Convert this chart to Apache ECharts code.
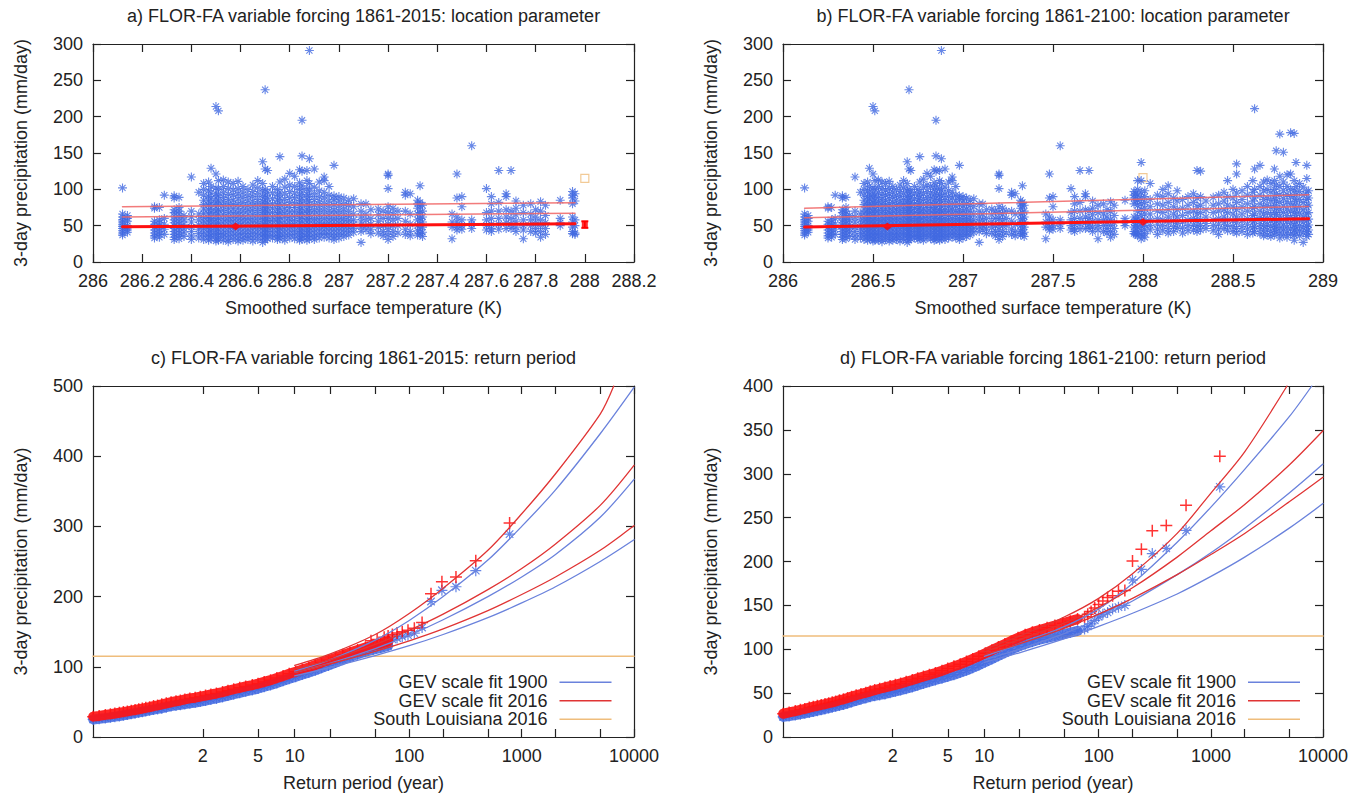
<!DOCTYPE html>
<html><head><meta charset="utf-8">
<script src="https://cdn.jsdelivr.net/npm/echarts@6/dist/echarts.min.js"></script>
<style>html,body{margin:0;padding:0;background:#fff}#chart{width:1363px;height:796px}</style>
</head><body><div id="chart"></div>
<script>
// ---------- Panel a/b: annual maxima vs smoothed temperature (columns: [temperature, [precip values]]) ----------
const histCols = [
 [286.12,[102,66,62,58,55,52,49,46,43,40,37]],
 [286.14,[64,60,56,50,47,44,41]],
 [286.25,[76,74,56,52,48,44,40,36,33]],
 [286.27,[75,58,54,50,46,42,38,34]],
 [286.29,[92,60,52,45,38]],
 [286.33,[91,88,72,68,63,58,54,50,46,42,38,34,31]],
 [286.35,[89,75,70,66,61,56,52,48,44,40,36,32]],
 [286.37,[64,58,52,46,41,35]],
 [286.40,[117,70,62,55,48,42,36,31]],
 [286.43,[96,66,58,51,45,39,33]],
 [286.45,[108,100,92,85,79,73,67,61,56,51,46,41,36,31]],
 [286.47,[110,98,90,84,78,72,66,60,55,50,45,40,35,30]],
 [286.48,[129,104,95,87,80,74,68,62,57,52,47,42,37,32]],
 [286.50,[214,121,102,94,88,82,76,70,64,58,53,48,43,38,33,29]],
 [286.51,[208,112,100,92,85,79,72,66,60,54,49,44,39,34,30]],
 [286.53,[113,104,96,89,83,77,71,65,59,54,49,44,39,35,30]],
 [286.55,[110,101,93,86,80,74,68,62,57,52,47,42,37,32,28]],
 [286.57,[108,99,92,85,79,73,67,61,56,51,46,41,36,31]],
 [286.59,[111,101,94,87,80,74,68,63,58,53,48,43,38,33,29]],
 [286.61,[104,96,89,82,76,70,64,59,54,49,44,39,34,30]],
 [286.63,[100,92,85,78,72,66,60,55,50,45,40,35,31]],
 [286.65,[106,97,90,83,77,71,65,59,54,49,44,39,34,29]],
 [286.67,[112,102,94,86,80,74,68,62,56,51,46,41,36,31]],
 [286.69,[138,108,98,90,83,77,71,65,59,53,48,43,38,33,27]],
 [286.70,[237,128,100,92,85,78,72,66,60,55,50,45,40,35,30]],
 [286.71,[126,96,88,81,75,69,63,57,52,47,42,37,32]],
 [286.73,[104,95,87,80,74,68,62,57,52,47,42,37,33]],
 [286.75,[100,92,85,78,72,66,60,55,50,45,40,35,31]],
 [286.76,[145,110,96,88,81,74,68,62,56,51,46,41,36,32]],
 [286.78,[114,103,94,86,79,73,67,61,55,50,45,40,35,30]],
 [286.80,[122,106,97,89,82,75,69,63,58,53,48,43,38,33]],
 [286.82,[118,104,95,88,81,75,69,63,57,52,47,42,37,32]],
 [286.84,[127,109,100,92,85,78,72,66,60,54,49,44,39,34,30]],
 [286.85,[195,146,125,105,96,88,81,74,68,62,56,50,45,40,35,31]],
 [286.87,[126,112,101,93,86,79,72,66,60,55,50,45,40,35,30]],
 [286.88,[291,142,108,98,90,83,76,70,64,58,52,47,42,37,32]],
 [286.90,[128,103,94,86,79,72,66,60,55,50,45,40,35,31]],
 [286.92,[110,98,90,83,76,70,64,58,53,48,43,38,33]],
 [286.94,[117,112,96,88,80,73,66,60,54,49,44,39,34]],
 [286.96,[104,92,84,77,70,64,58,53,48,43,38,33]],
 [286.98,[133,91,86,79,72,66,60,55,50,45,40,35,31]],
 [287.00,[90,84,77,70,64,58,53,48,43,38,33]],
 [287.02,[88,80,73,66,60,55,50,45,40,35]],
 [287.04,[85,78,70,63,57,52,47,42,37]],
 [287.06,[87,76,66,58,52,46,41]],
 [287.09,[80,70,62,55,48,42,27]],
 [287.11,[80,66,58,50,44]],
 [287.13,[72,60,52,45,39]],
 [287.16,[73,65,56,48,40]],
 [287.18,[70,60,50,42,36]],
 [287.20,[121,119,101,76,68,60,52,45,38,31]],
 [287.22,[74,66,58,50,42,35]],
 [287.24,[70,60,50,40]],
 [287.27,[96,92,70,56,45,38]],
 [287.29,[94,66,52,42,36]],
 [287.32,[85,80,74,66,58,50,43,37]],
 [287.33,[105,82,77,68,60,52,45,39]],
 [287.34,[78,70,62,55,48,41,35]],
 [287.46,[66,55,48,32]],
 [287.48,[121,88,62,55,48,44]],
 [287.50,[90,76,58,50,45]],
 [287.54,[160,58,52,46]],
 [287.60,[101,68,58,50,44]],
 [287.62,[90,80,70,60,52,46,42]],
 [287.65,[126,82,70,60,52,45]],
 [287.68,[94,90,72,62,54,46]],
 [287.70,[126,70,60,52,46]],
 [287.72,[84,74,65,56,48,42]],
 [287.75,[78,68,58,50,44,32]],
 [287.78,[80,66,58,50,42]],
 [287.80,[72,62,54,46,40]],
 [287.82,[83,70,58,50,42,34]],
 [287.84,[78,64,54,46,38]],
 [287.90,[85,60,54,50]],
 [287.95,[97,92,88,80,62,55,48,42,39]],
 [287.96,[94,84,58,50,40,38]]
];
const futureCols = [
 [287.97,[112,100,92,85,78,70,62,55,48,42,36]],
 [287.99,[137,112,96,88,80,72,64,56,49,43,37,32]],
 [288.01,[98,90,82,74,66,58,51,45,39,34]],
 [288.04,[108,86,76,66,58,50,44]],
 [288.08,[92,80,70,60,52,45,38]],
 [288.11,[100,90,78,68,58,50,43]],
 [288.14,[105,94,82,72,62,54,46,40]],
 [288.17,[88,76,66,57,49,42]],
 [288.19,[98,84,72,62,53,46]],
 [288.22,[86,74,64,55,47,40]],
 [288.25,[90,78,68,58,50,43]],
 [288.28,[94,82,70,60,51,44]],
 [288.30,[126,88,76,66,57,49,42]],
 [288.32,[125,90,78,68,58,50,44]],
 [288.35,[84,72,62,53,46]],
 [288.39,[89,78,68,58,50,43]],
 [288.42,[92,80,70,60,52,45,38]],
 [288.45,[96,84,72,62,54,46]],
 [288.47,[112,90,78,68,58,50,43]],
 [288.50,[100,88,76,66,57,49,42]],
 [288.52,[135,121,95,82,72,62,54,46,40]],
 [288.55,[98,86,76,66,57,49,42]],
 [288.58,[104,92,80,70,60,52,45,38]],
 [288.61,[112,96,84,74,64,55,47,40]],
 [288.62,[211,128,100,88,76,66,57,49,42]],
 [288.65,[133,104,92,80,70,61,53,46,39]],
 [288.67,[110,98,86,76,66,58,50,43,36]],
 [288.69,[113,100,88,78,68,59,51,44,37]],
 [288.71,[108,96,85,75,65,57,49,42,35]],
 [288.73,[128,112,100,88,78,68,59,51,44,37]],
 [288.74,[153,106,94,84,74,65,56,48,41]],
 [288.76,[176,118,104,92,82,72,63,55,47,40,33]],
 [288.78,[151,110,98,87,77,68,59,51,44,37]],
 [288.80,[120,104,93,83,73,64,56,48,41,34]],
 [288.82,[178,121,100,90,80,70,61,53,45,38]],
 [288.84,[177,112,98,87,77,68,59,51,44,37,30]],
 [288.85,[137,104,93,83,73,64,55,47,40]],
 [288.87,[108,97,86,76,67,58,50,43,36]],
 [288.89,[103,92,82,72,63,55,47,40,27]],
 [288.91,[133,115,96,86,76,66,57,49,42,35]],
 [288.92,[98,88,78,68,59,51,44,38]]
];
// location-parameter fits (value at first and last temperature)
const locA  = [[286.12,48.5],[287.96,52.5]];
const locA2 = [[286.12,62],[287.96,67]];
const locA3 = [[286.12,76],[287.96,81.5]];
const locMarkA = [[286.58,49]];
const errA = [[288.0,47],[288.0,56]];
const errCenterA = [[288.0,52]];
const obsA = [[288.0,115]];
const locB  = [[286.12,48],[288.92,59.5]];
const locB2 = [[286.12,61],[288.92,76.5]];
const locB3 = [[286.12,74],[288.92,92.5]];
const locMarkB = [[286.58,49],[288.0,55]];
const obsB = [[288.0,116]];

// ---------- Panel c/d: return periods ----------
const periodTicks  = [2,5,10,20,50,100,200,500,1000,2000,5000,10000];
const periodLabels = [2,5,10,100,1000,10000];
const periodMin = 1.00137, periodMax = 10000;
const bandPeriods = [1.0014,1.003,1.006,1.01,1.015,1.022,1.03,1.04,1.052,1.066,1.082,1.1,1.12,1.145,1.175,1.21,1.25,1.3,1.36,1.43,1.5,1.58,1.68,1.8,1.93,2.08,2.25,2.45,2.7,2.95,3.25,3.6,4.0,4.5,5.0,5.6,6.3,7.1,8.0,9.0,10.2,11.6,13.2,15,17,19.5,22.5,26,30,35,41,48,56,65];
const bandRedC  = [29,30,31.5,32.5,33.5,34.5,35.5,36.5,37.5,38.5,39.5,40.5,41.5,42.5,44,45,46.5,48,49.5,51,52,53.5,55,56,57.5,59,60.5,62,64,66,68,70,72,74,76,78.5,81,84,87,90,93,96,99,102.5,106,109.5,113,117,120.5,124,127.5,130.5,133,136];
const bandBlueC = [25,26,27,28,29,30,31,32,33,34,35,36,37,38,39,40,41,42.5,44,45,46,47,48,49,50.5,52,53.5,55,57,59,61,63,65,67,69,71.5,74,77,80,83,86,89,92,95,98.5,102,106,110,114,118,121.5,124.5,127,130];
const bandRedD  = [26.5,28,29.5,31,32,33.5,34.5,35.5,36.5,37.5,38.5,39.5,40.5,42,43,44.5,46,47.5,49,50.5,52,53.5,55,56.5,58,59.5,61,63,65,67,69,71,73,75.5,78,80.5,83,86,89,92,95.5,99,102.5,106,109.5,113,116.5,119.5,122,124.5,127,129.5,132,134.5];
const bandBlueD = [23,24,25,26,27,28,29,30,31,32,33,34,35,36,37,38.5,40,41.5,43,44.5,46,47,48,49,50.5,52,53.5,55,57,59,61,63,65,67,69,71,73.5,76,79,82,85.5,89,92.5,96,99.5,103,106,108.5,111,113,115,117,119,121];
const tailRedC  = [[45.9,137],[52,139],[60,142],[65,144],[70.9,146],[78,148],[86.7,150],[97.5,152],[111,155],[130,163],[156,204],[195,221],[260,228],[390,251],[780,305]];
const tailBlueC = [[45.9,130],[52,132],[60,135],[65,137],[70.9,139],[78,141],[86.7,143],[97.5,145],[111,148],[130,156],[156,193],[195,209],[260,214],[390,237],[780,289]];
const tailRedD  = [[75,137],[80,140],[85.7,143],[92.3,147],[100,151],[109,155],[120,159],[133,161],[150,166],[171,167],[200,200.6],[240,214],[300,235],[400,241],[600,264],[1200,320]];
const tailBlueD = [[75,123],[80,126],[85.7,129],[92.3,133],[100,137],[109,140],[120,142],[133,146],[150,148],[171,150],[200,179],[240,191],[300,209],[400,215],[600,235.5],[1200,285]];
// GEV fit curves [return period, precipitation]
const fitBlueC1 = [[10,94],[20,110],[50,138],[100,166],[200,200],[500,252],[1000,300],[2000,352],[5000,432],[10000,498]];
const fitBlueC2 = [[10,92],[20,105],[50,126],[100,145],[200,167],[500,200],[1000,228],[2000,260],[5000,313],[10000,367]];
const fitBlueC3 = [[10,87],[20,99],[50,116],[100,130],[200,146],[500,170],[1000,191],[2000,214],[5000,250],[10000,281]];
const fitRedC1  = [[10,102],[20,118],[50,146],[100,176],[200,212],[500,266],[1000,318],[2000,375],[5000,460],[6600,500]];
const fitRedC2  = [[10,97],[20,110],[50,132],[100,152],[200,175],[500,210],[1000,240],[2000,275],[5000,330],[10000,387]];
const fitRedC3  = [[10,92],[20,104],[50,122],[100,137],[200,154],[500,180],[1000,203],[2000,228],[5000,266],[10000,301]];
const fitBlueD1 = [[10,92],[20,106],[50,126],[100,146],[200,175],[500,222],[1000,262],[2000,305],[5000,365],[7940,400]];
const fitBlueD2 = [[10,88],[20,100],[50,118],[100,135],[200,155],[500,185],[1000,210],[2000,238],[5000,278],[10000,311]];
const fitBlueD3 = [[10,85],[20,96],[50,112],[100,126],[200,141],[500,163],[1000,183],[2000,205],[5000,238],[10000,266]];
const fitRedD1  = [[10,100],[20,115],[50,137],[100,158],[200,186],[500,232],[1000,278],[2000,325],[4770,400]];
const fitRedD2  = [[10,97],[20,111],[50,130],[100,148],[200,170],[500,205],[1000,235],[2000,265],[5000,310],[10000,349]];
const fitRedD3  = [[10,94],[20,106],[50,124],[100,140],[200,158],[500,185],[1000,208],[2000,232],[5000,268],[10000,296]];
const louisiana2016 = 115;

// ---------- helpers ----------
const FONT = '"Liberation Sans", Arial, Helvetica, sans-serif';
const FS = 18;
const BLUE = '#4169e1', RED = '#ff0000';
const CURVE_BLUE = '#6a82dc', CURVE_RED = '#e03434', TAN = '#efbd7c';
const ASTER = 'path://M5,0L5,10M0,5L10,5M1.6,1.6L8.4,8.4M1.6,8.4L8.4,1.6';
const PLUS = 'path://M5,0L5,10M0,5L10,5';
const gumbel = T => -Math.log(-Math.log(1 - 1 / T));
const toU = arr => arr.map(p => [gumbel(p[0]), p[1]]);
const flat = cols => { const o = []; cols.forEach(c => c[1].forEach(v => o.push([c[0], v]))); return o; };
const ptsA = flat(histCols);
const ptsB = ptsA.concat(flat(futureCols));
const band = (vals) => bandPeriods.map((T, i) => [T, vals[i]]);

const grids = [
  {left: 93, top: 44, width: 541, height: 218},
  {left: 783, top: 44, width: 540, height: 218},
  {left: 93, top: 386, width: 541, height: 351},
  {left: 783, top: 386, width: 540, height: 351}
];
const AX = '#222';
const axLine = {show: true, onZero: false, lineStyle: {color: AX, width: 1.2}};
const axTick = {show: true, inside: true, length: 8, lineStyle: {color: AX, width: 1.2}};
const labStyle = {color: '#222', fontSize: FS, fontFamily: FONT};

const xAxes = [], yAxes = [];
function addX(gi, cfg) {
  const base = {gridIndex: gi, type: 'value', min: cfg.min, max: cfg.max, splitLine: {show: false}, axisLine: axLine};
  if (cfg.interval) base.interval = cfg.interval;
  const tick = Object.assign({}, axTick);
  const lab = Object.assign({margin: 10}, labStyle);
  if (cfg.tickValues) { tick.customValues = cfg.tickValues; lab.customValues = cfg.labelValues; lab.formatter = cfg.formatter; }
  xAxes.push(Object.assign({}, base, {position: 'bottom', axisTick: tick, axisLabel: lab,
    name: cfg.name, nameLocation: 'middle', nameGap: 37, nameTextStyle: labStyle}));
  xAxes.push(Object.assign({}, base, {position: 'top', axisTick: tick, axisLabel: {show: false}}));
}
function addY(gi, cfg) {
  const base = {gridIndex: gi, type: 'value', min: cfg.min, max: cfg.max, interval: cfg.interval, splitLine: {show: false}, axisLine: axLine, axisTick: axTick};
  yAxes.push(Object.assign({}, base, {position: 'left', axisLabel: Object.assign({margin: 10}, labStyle),
    name: '3-day precipitation (mm/day)', nameLocation: 'middle', nameGap: 63, nameRotate: 90, nameTextStyle: labStyle}));
  yAxes.push(Object.assign({}, base, {position: 'right', axisLabel: {show: false}}));
}
const periodFmt = v => { for (const T of periodLabels) if (Math.abs(gumbel(T) - v) < 1e-6) return String(T); return ''; };
addX(0, {min: 286, max: 288.2, interval: 0.2, name: 'Smoothed surface temperature (K)'});
addX(1, {min: 286, max: 289, interval: 0.5, name: 'Smoothed surface temperature (K)'});
const pcfg = {min: gumbel(periodMin), max: gumbel(periodMax), name: 'Return period (year)',
  tickValues: periodTicks.map(gumbel), labelValues: periodLabels.map(gumbel), formatter: periodFmt};
addX(2, pcfg); addX(3, pcfg);
addY(0, {min: 0, max: 300, interval: 50});
addY(1, {min: 0, max: 300, interval: 50});
addY(2, {min: 0, max: 500, interval: 100});
addY(3, {min: 0, max: 400, interval: 50});

const series = [];
function scat(gi, data, symbol, color, size, bw, name) {
  series.push({type: 'scatter', name: name || ('pts' + series.length), xAxisIndex: gi * 2, yAxisIndex: gi * 2,
    data, symbol, symbolSize: size, itemStyle: {color: 'transparent', borderColor: color, borderWidth: bw}, silent: true});
}
function line(gi, data, color, width, name, smooth) {
  series.push({type: 'line', name: name || ('ln' + series.length), xAxisIndex: gi * 2, yAxisIndex: gi * 2, data,
    symbol: 'none', color, itemStyle: {color}, lineStyle: {color, width, cap: 'round', join: 'round'},
    smooth: smooth ? 0.3 : false, silent: true});
}
// panel a
scat(0, ptsA, ASTER, BLUE, 9, 1.1);
line(0, locA3, 'rgba(240,100,100,0.85)', 1.5);
line(0, locA2, 'rgba(240,100,100,0.85)', 1.5);
line(0, locA, '#ff1010', 3);
series.push({type: 'scatter', xAxisIndex: 0, yAxisIndex: 0, data: locMarkA, symbol: 'diamond', symbolSize: [10, 8], itemStyle: {color: RED}, silent: true});
series.push({type: 'line', xAxisIndex: 0, yAxisIndex: 0, data: errA, symbol: 'rect', symbolSize: [7, 2], showSymbol: true, itemStyle: {color: RED}, lineStyle: {color: RED, width: 1.6}, silent: true});
series.push({type: 'scatter', xAxisIndex: 0, yAxisIndex: 0, data: errCenterA, symbol: 'rect', symbolSize: 6, itemStyle: {color: RED}, silent: true});
series.push({type: 'scatter', xAxisIndex: 0, yAxisIndex: 0, data: obsA, symbol: 'rect', symbolSize: 8, itemStyle: {color: 'transparent', borderColor: TAN, borderWidth: 1.2}, silent: true});
// panel b
series.push({type: 'scatter', xAxisIndex: 2, yAxisIndex: 2, data: obsB, symbol: 'rect', symbolSize: 8, itemStyle: {color: 'transparent', borderColor: TAN, borderWidth: 1.2}, silent: true});
scat(1, ptsB, ASTER, BLUE, 9, 1.1);
line(1, locB3, 'rgba(240,100,100,0.85)', 1.5);
line(1, locB2, 'rgba(240,100,100,0.85)', 1.5);
line(1, locB, '#ff1010', 3);
series.push({type: 'scatter', xAxisIndex: 2, yAxisIndex: 2, data: locMarkB, symbol: 'diamond', symbolSize: [10, 8], itemStyle: {color: RED}, silent: true});
// panels c and d: the dense part of each sample is drawn as a thick ribbon under its markers
const N1 = 'GEV scale fit 1900', N2 = 'GEV scale fit 2016', N3 = 'South Louisiana 2016';
function returnPanel(gi, blueBand, blueTail, redBand, redTail, blueFits, redFits) {
  line(gi, toU([[periodMin, louisiana2016], [periodMax, louisiana2016]]), TAN, 1.5, N3);
  line(gi, toU(band(blueBand)), 'rgba(65,105,225,0.85)', 10);
  scat(gi, toU(band(blueBand).concat(blueTail)), ASTER, BLUE, 11, 1.2);
  line(gi, toU(band(redBand)), 'rgba(255,20,20,0.92)', 10);
  scat(gi, toU(band(redBand).concat(redTail)), PLUS, RED, 12, 1.5);
  blueFits.forEach(d => line(gi, toU(d), CURVE_BLUE, 1.3, N1, true));
  redFits.forEach(d => line(gi, toU(d), CURVE_RED, 1.3, N2, true));
}
returnPanel(2, bandBlueC, tailBlueC, bandRedC, tailRedC, [fitBlueC1, fitBlueC2, fitBlueC3], [fitRedC1, fitRedC2, fitRedC3]);
returnPanel(3, bandBlueD, tailBlueD, bandRedD, tailRedD, [fitBlueD1, fitBlueD2, fitBlueD3], [fitRedD1, fitRedD2, fitRedD3]);

const titleStyle = {color: '#222', fontSize: FS, fontWeight: 'normal', fontFamily: FONT};
const legendBase = {orient: 'vertical', align: 'right', icon: 'rect', itemWidth: 52, itemHeight: 1.6, itemGap: 0, padding: 0,
  selectedMode: false, data: [N1, N2, N3], textStyle: {color: '#222', fontSize: FS, fontFamily: FONT, lineHeight: 18.5, padding: [0, 7, 0, 0]}};

const option = {
  animation: false,
  backgroundColor: '#fff',
  title: [
    {text: 'a) FLOR-FA variable forcing 1861-2015: location parameter', left: 363.5, top: 7, textAlign: 'center', padding: 0, textStyle: titleStyle},
    {text: 'b) FLOR-FA variable forcing 1861-2100: location parameter', left: 1053, top: 7, textAlign: 'center', padding: 0, textStyle: titleStyle},
    {text: 'c) FLOR-FA variable forcing 1861-2015: return period', left: 363.5, top: 349, textAlign: 'center', padding: 0, textStyle: titleStyle},
    {text: 'd) FLOR-FA variable forcing 1861-2100: return period', left: 1053, top: 349, textAlign: 'center', padding: 0, textStyle: titleStyle}
  ],
  legend: [
    Object.assign({}, legendBase, {right: 1363 - 611.5, top: 673}),
    Object.assign({}, legendBase, {right: 1363 - 1300, top: 673})
  ],
  grid: grids,
  xAxis: xAxes,
  yAxis: yAxes,
  series
};
const chart = echarts.init(document.getElementById('chart'), null, {renderer: 'svg'});
chart.setOption(option);
</script></body></html>
